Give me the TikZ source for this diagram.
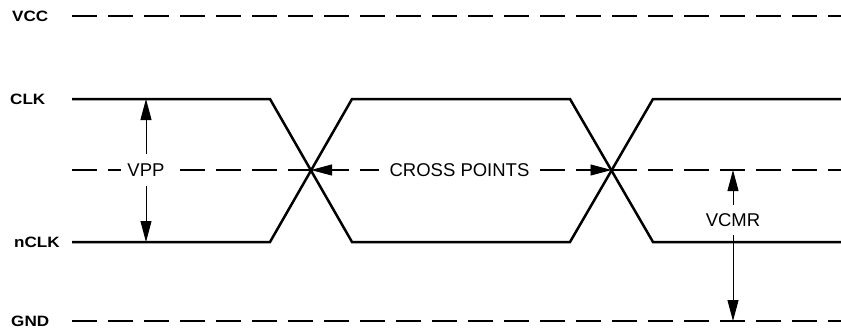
\documentclass[tikz,border=0pt]{standalone}
\usepackage{fontspec}
\setmainfont{Liberation Sans}
\usetikzlibrary{arrows.meta}
\begin{document}
\begin{tikzpicture}[x=1pt,y=-1pt,
  sig/.style={line width=2.5pt, line join=miter},
  rail/.style={line width=1.3pt, dash pattern=on 25pt off 11pt},
  dim/.style={line width=0.9pt, -{Triangle[length=21pt,width=11pt]}},
  lbl/.style={anchor=west, inner sep=0pt, font=\fontsize{15}{15}\selectfont\bfseries},
  txt/.style={font=\fontsize{18.5}{18.5}\selectfont, fill=white}]
\useasboundingbox (0,0) rectangle (841,333);
% labels
\node[lbl] (vcc)  at (12,16)  {\scalebox{1.14}[1]{VCC}};
\node[lbl] (clk)  at (10,99)  {\scalebox{1.14}[1]{CLK}};
\node[lbl] (nclk) at (14,242) {\scalebox{1.14}[1]{nCLK}};
\node[lbl] (gnd)  at (11,321) {\scalebox{1.14}[1]{GND}};
% coordinates
\coordinate (vccL) at (72,16);  \coordinate (vccR) at (841,16);
\coordinate (midL) at (72,170); \coordinate (midR) at (841,170);
\coordinate (gndL) at (72,321); \coordinate (gndR) at (841,321);
\coordinate (x1) at (311,170);  \coordinate (x2) at (611.5,170);
% rails
\draw[rail] (vccL) -- (vccR);
\draw[rail] (midL) -- (midR);
\draw[rail] (gndL) -- (gndR);
% signals
\draw[sig] (72,99) -- (270,99) -- (352,242) -- (570,242) -- (653,99) -- (841,99);
\draw[sig] (72,242) -- (270,242) -- (352,99) -- (570,99) -- (653,242) -- (841,242);
% VPP
\node[txt, inner xsep=6pt, inner ysep=9.5pt] (vpp) at (146,170) {VPP};
\coordinate (vppT) at (146,99); \coordinate (vppB) at (146,242);
\draw[dim] (vpp.north) -- (vppT);
\draw[dim] (vpp.south) -- (vppB);
% CROSS POINTS
\node[txt, inner xsep=11pt, inner ysep=4pt] (cp) at (459.5,170) {CROSS POINTS};
\coordinate (cpa) at (340,170); \coordinate (cpb) at (580,170);
\draw[dim] (cpa) -- (x1);
\draw[dim] (cpb) -- (x2);
% VCMR
\node[txt, inner xsep=2pt, inner ysep=8.5pt] (vcmr) at (733,220) {VCMR};
\coordinate (vcT) at (733,170); \coordinate (vcB) at (733,321);
\draw[dim] (vcmr.north) -- (vcT);
\draw[dim] (vcmr.south) -- (vcB);
\end{tikzpicture}
\end{document}
